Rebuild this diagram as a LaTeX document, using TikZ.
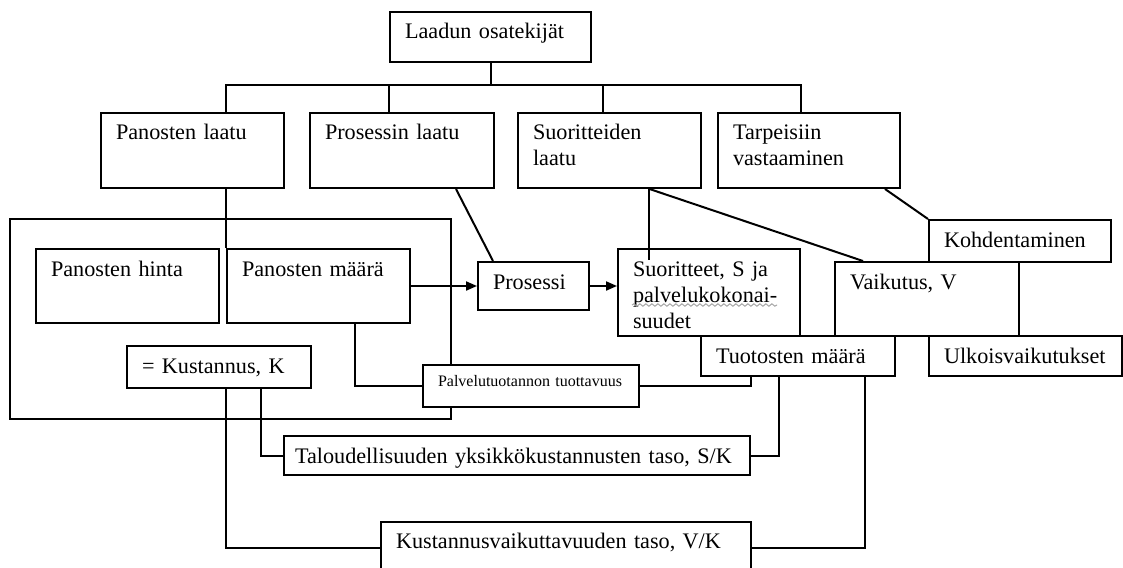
\documentclass[tikz,border=0pt]{standalone}
\usepackage{fontspec}
\setmainfont{Liberation Serif}
\usetikzlibrary{arrows.meta,calc,decorations.pathmorphing}
\hyphenpenalty=10000

\begin{document}
\begin{tikzpicture}[x=0.5pt, y=-0.5pt, line width=1pt,
    laatikko/.style={draw, fill=white, anchor=north west, align=left,
        inner xsep=7.5pt, inner ysep=0pt, text height=13.5pt,
        font=\fontsize{11.1}{13}\selectfont},
    pieni/.style={font=\fontsize{8}{10}\selectfont, text height=10.5pt},
    nuoli/.style={-{Triangle[length=5.5pt,width=4.5pt]}}]

    \useasboundingbox (0,0) rectangle (1123,567);
    \clip (0,0) rectangle (1123,567);

    % Frame round the input side
    \draw (10,219) rectangle (451,419);

    % Top and the four components of quality
    \node[laatikko, text width=85.5pt, text depth=11.5pt] (top) at (389,11) {Laadun osatekijät};
    \node[laatikko, text width=76.5pt, text depth=24pt] (inlaatu) at (100,112) {Panosten laatu};
    \node[laatikko, text width=77pt, text depth=24pt] (prlaatu) at (309,112) {Prosessin laatu};
    \node[laatikko, text width=76.5pt, text depth=24pt] (sulaatu) at (517,112) {Suoritteiden\\laatu};
    \node[laatikko, text width=76pt, text depth=24pt] (tarve) at (717,112) {Tarpeisiin\\vastaaminen};

    % Inputs and cost
    \node[laatikko, text width=76.5pt, text depth=23.5pt] (hinta) at (35,248) {Panosten hinta};
    \node[laatikko, text width=76.5pt, text depth=23.5pt] (maara) at (226,248) {Panosten määrä};
    \node[laatikko, text width=77pt, text depth=7.5pt] (kust) at (126,345) {= Kustannus, K};
    \node[laatikko, pieni, text width=93pt, text depth=10.5pt] (palv) at (422,364) {Palvelutuotannon tuottavuus};

    % Process, outputs and effects
    \node[laatikko, text width=40.5pt, text depth=10.5pt] (prosessi) at (477,261) {Prosessi};
    \node[laatikko, text width=76pt, text depth=30pt] (suor) at (617,248) {Suoritteet, S ja\\palvelukokonai-\\suudet};
    \node[laatikko, text width=76pt, text depth=7.5pt] (kohd) at (928,219) {Kohdentaminen};
    \node[laatikko, text width=77pt, text depth=23.5pt] (vaik) at (834,261) {Vaikutus, V};
    \node[laatikko, text width=82pt, text depth=6.5pt] (tuot) at (700,335) {Tuotosten määrä};
    \node[laatikko, text width=81.5pt, text depth=6.5pt] (ulko) at (928,335) {Ulkoisvaikutukset};

    % Ratios
    \node[laatikko, inner xsep=5.5pt, text width=222pt, text depth=6pt] (talo) at (283,435) {Taloudellisuuden yksikkökustannusten taso, S/K};
    \node[laatikko, text width=170pt, text height=13pt, text depth=13pt] (kuva) at (380,521) {Kustannusvaikuttavuuden taso, V/K};

    % Tree from the top box
    \draw (top.south) -- ++(0,22) coordinate (haara);
    \draw (maara.west |- inlaatu.north) |- (haara) -| (suor.east |- tarve.north);
    \draw (top.west |- prlaatu.north) -- (top.west |- haara);
    \draw ($(sulaatu.north)+(-7,0)$) |- (haara);

    % Links down from the components
    \draw (maara.west |- inlaatu.south) -- (maara.north west);
    \draw ($(prlaatu.south)+(54,0)$) -- ($(prosessi.north west)+(16,0)$);
    \draw ($(sulaatu.south)+(39,0)$) -- ++(0,71);
    \draw ($(sulaatu.south)+(40,0)$) -- ($(vaik.north west)+(29,0)$);
    \draw ($(tarve.south east)+(-16,0)$) -- (kohd.north west);

    % Production chain
    \draw[nuoli] (maara.east |- prosessi.west) -- (prosessi.west);
    \draw[nuoli] (prosessi.east) -- (prosessi.east -| suor.west);

    % Productivity and ratio links
    \draw ($(maara.south west)+(129,0)$) |- (palv.west);
    \draw (palv.east) -| (talo.east |- tuot.south);
    \draw (talo.east) -| ($(tuot.south)+(-19,0)$);
    \draw (kuva.east) -| ($(tuot.south)+(67,0)$);
    \draw ($(kust.south)+(42,0)$) |- (talo.west);
    \draw (kust.south -| maara.west) |- (kuva.west);

    % Squiggle under the split word
    \draw[gray!70, line width=0.5pt, decorate, decoration={snake, amplitude=0.6pt, segment length=3pt}]
        ($(suor.north west)+(15,57)$) -- ($(suor.north west)+(160,57)$);
\end{tikzpicture}
\end{document}
